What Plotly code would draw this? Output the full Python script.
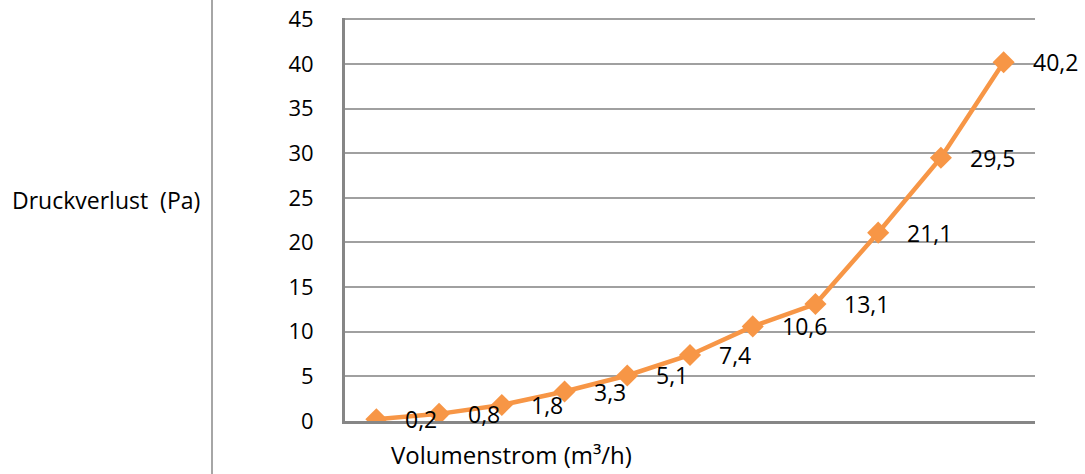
import plotly.graph_objects as go

# Data
flow_index = list(range(11))
pressure_loss = [0.2, 0.8, 1.8, 3.3, 5.1, 7.4, 10.6, 13.1, 21.1, 29.5, 40.2]
labels = ["0,2", "0,8", "1,8", "3,3", "5,1", "7,4", "10,6", "13,1", "21,1", "29,5", "40,2"]
y_ticks = [0, 5, 10, 15, 20, 25, 30, 35, 40, 45]

FONT = "Open Sans"
ORANGE = "#F79646"
GRID = "#A0A0A0"

W, H = 1085, 474
L, T = 345, 18
PW, PH = 690, 403
R = W - L - PW
B = H - T - PH

fig = go.Figure()
fig.add_trace(go.Scatter(
    x=flow_index, y=pressure_loss, mode="lines+markers",
    line=dict(color=ORANGE, width=4.5),
    marker=dict(symbol="diamond", size=17, color=ORANGE),
    hoverinfo="skip", showlegend=False,
))

annotations = []
for xi, yi, lab in zip(flow_index, pressure_loss, labels):
    annotations.append(dict(
        x=xi, y=yi, xref="x", yref="y", text=lab, showarrow=False,
        xanchor="left", yanchor="middle", xshift=27, yshift=0,
        font=dict(family=FONT, size=23, color="#000000"),
    ))

annotations.append(dict(
    x=(511 - L) / PW, y=-B / PH + 0.002, xref="paper", yref="paper",
    text="Volumenstrom (m³/h)", showarrow=False, xanchor="center", yanchor="bottom",
    font=dict(family=FONT, size=24, color="#000000"),
))
annotations.append(dict(
    x=(106 - L) / PW, y=(421 - 200) / PH, xref="paper", yref="paper",
    text="Druckverlust  (Pa)", showarrow=False, xanchor="center", yanchor="middle",
    font=dict(family=FONT, size=23, color="#000000"),
))

fig.update_layout(
    width=W, height=H,
    margin=dict(l=L, r=R, t=T, b=B, pad=0),
    paper_bgcolor="white", plot_bgcolor="white",
    font=dict(family=FONT, size=22, color="#000000"),
    annotations=annotations,
    shapes=[dict(
        type="line", xref="paper", yref="paper",
        x0=(212 - L) / PW, x1=(212 - L) / PW,
        y0=-0.3, y1=1.2, line=dict(color="#A6A6A6", width=2),
    )],
)
fig.update_xaxes(
    range=[-0.5, 10.5], showticklabels=False, showgrid=False, zeroline=False,
    showline=True, linecolor="#868686", linewidth=3, automargin=False,
)
fig.update_yaxes(
    range=[0, 45.15], tickvals=y_ticks, ticktext=[str(v) for v in y_ticks],
    showgrid=True, gridcolor=GRID, gridwidth=1.5, zeroline=False,
    showline=True, linecolor="#868686", linewidth=3, automargin=False,
    ticklabeloverflow="allow",
    ticklabelstandoff=24, tickfont=dict(family=FONT, size=22, color="#000000"),
)

fig.write_html(
    "out.html",
    config={"displayModeBar": False},
    post_script="document.body.style.margin='0px';",
)
